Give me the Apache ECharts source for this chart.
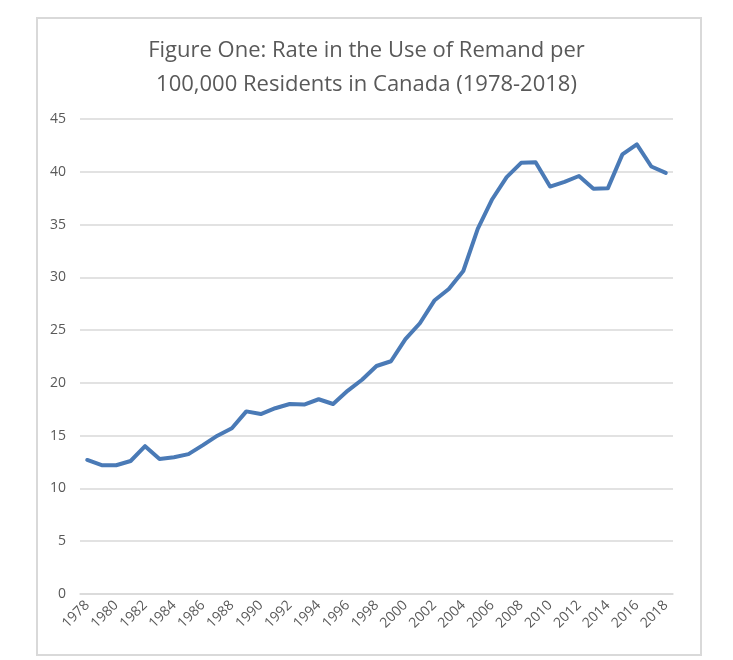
<!DOCTYPE html>
<html>
<head>
<meta charset="utf-8">
<script src="https://cdn.jsdelivr.net/npm/echarts@6/dist/echarts.min.js"></script>
<style>
  html, body { margin: 0; padding: 0; background: #fff; }
  #chart { width: 733px; height: 660px; }
</style>
</head>
<body>
<div id="chart"></div>
<script>
// remand rate per 100,000 residents
const years = [];
for (let y = 1978; y <= 2018; y++) years.push(String(y));
const remandRate = [
  12.7, 12.2, 12.2, 12.6, 14.0, 12.8, 12.95, 13.25, 14.1, 15.0,
  15.7, 17.3, 17.05, 17.6, 18.0, 17.95, 18.45, 18.0, 19.25, 20.3,
  21.6, 22.05, 24.15, 25.65, 27.8, 28.9, 30.6, 34.6, 37.4, 39.5,
  40.85, 40.9, 38.6, 39.05, 39.6, 38.4, 38.45, 41.65, 42.6, 40.5,
  39.9
];
const titleLines = [
  'Figure One: Rate in the Use of Remand per',
  '100,000 Residents in Canada (1978-2018)'
];

const chart = echarts.init(document.getElementById('chart'), null, { renderer: 'canvas' });

const option = {
  backgroundColor: '#fff',
  animation: false,
  title: {
    text: titleLines.join('\n'),
    left: 'center',
    top: 29,
    textStyle: {
      fontFamily: 'Open Sans',
      fontSize: 22,
      fontWeight: 'normal',
      color: '#595959',
      lineHeight: 34
    }
  },
  graphic: [{
    type: 'rect',
    shape: { x: 37, y: 18, width: 664, height: 637 },
    style: { fill: 'none', stroke: '#d9d9d9', lineWidth: 2 },
    silent: true
  }],
  grid: { left: 80, right: 60, top: 119, bottom: 66 },
  xAxis: {
    type: 'category',
    data: years,
    boundaryGap: true,
    axisLine: { lineStyle: { color: '#d9d9d9', width: 1.5 } },
    axisTick: { show: false },
    axisLabel: {
      interval: 1,
      rotate: 45,
      color: '#595959',
      fontFamily: 'Open Sans',
      fontSize: 14,
      margin: 9
    }
  },
  yAxis: {
    type: 'value',
    min: 0,
    max: 45,
    interval: 5,
    axisLine: { show: false },
    axisTick: { show: false },
    axisLabel: {
      color: '#595959',
      fontFamily: 'Open Sans',
      fontSize: 14,
      margin: 14
    },
    splitLine: { lineStyle: { color: '#d9d9d9', width: 1.5 } }
  },
  series: [{
    type: 'line',
    data: remandRate,
    symbol: 'none',
    lineStyle: { color: '#4a7ab6', width: 4, join: 'round', cap: 'round' }
  }]
};

chart.setOption(option);
</script>
</body>
</html>
